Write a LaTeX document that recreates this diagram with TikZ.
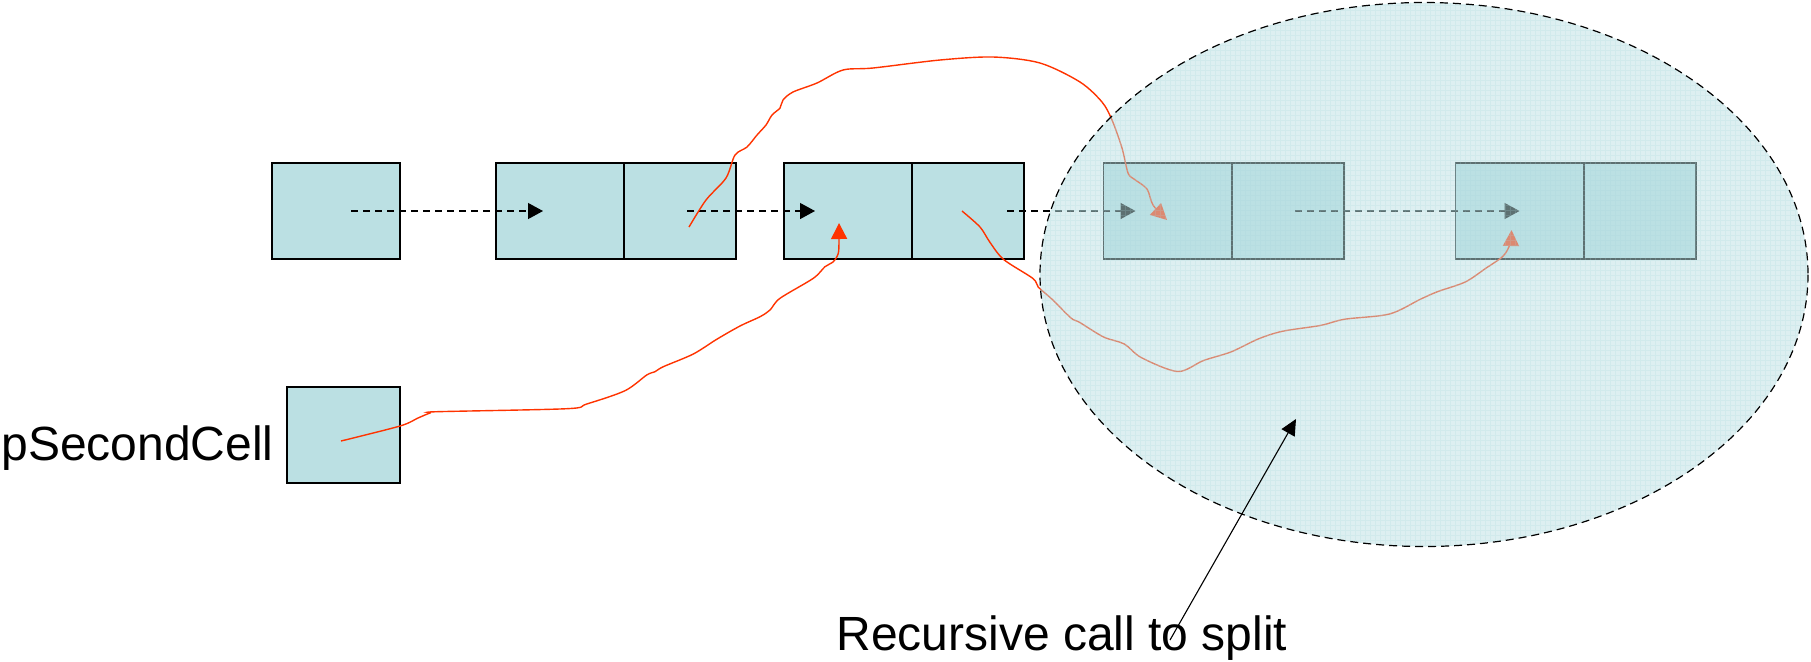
\documentclass[tikz,border=0pt]{standalone}
\usepackage{fontspec}
\setmainfont{Liberation Sans}
\usetikzlibrary{arrows.meta,calc}
\definecolor{cellfill}{RGB}{187,224,227}
\definecolor{ptrred}{RGB}{255,51,0}
\definecolor{gridc}{RGB}{165,212,218}
\begin{document}
\begin{tikzpicture}[x=0.5pt,y=-0.5pt,
  cell/.style={draw=black,line width=0.7pt,fill=cellfill,minimum height=48pt,inner sep=0pt,outer sep=0pt},
  wcell/.style={cell,minimum width=64pt},
  ncell/.style={cell,minimum width=56pt},
  link/.style={dash pattern=on 3.5pt off 2.5pt,line width=0.65pt,-{Triangle[length=7.5pt,width=8pt]}},
  ptr/.style={draw=ptrred,line width=0.7pt,-{Triangle[length=8pt,width=8pt]}},
  lbl/.style={font=\fontsize{24}{28}\selectfont,inner sep=0pt,anchor=base west}]
\useasboundingbox (0,0) rectangle (1811,661);

% cells
\node[wcell] (b1)  at (336,211) {};
\node[wcell] (b2a) at (560,211) {};
\node[ncell] (b2b) at (680,211) {};
\node[wcell] (b3a) at (848,211) {};
\node[ncell] (b3b) at (968,211) {};
\node[wcell] (b4a) at (1167.5,211) {};
\node[ncell] (b4b) at (1288,211) {};
\node[wcell] (b5a) at (1519.5,211) {};
\node[ncell] (b5b) at (1640,211) {};
\node[cell,minimum width=56.5pt] (ps) at (343.5,435) {};

% labels
\node[lbl] (psl) at (1,460) {pSecondCell};
\node[lbl] (rec) at (836,650) {Recursive call to split};

% next links
\draw[link] ($(b1.center)+(15,0)$) -- ($(b2a.west)+(47,0)$);
\draw[link] ($(b2b.center)+(7,0)$) -- ($(b3a.west)+(31,0)$);
\draw[link] ($(b3b.center)+(39,0)$) -- ($(b4a.west)+(32,0)$);
\draw[link] ($(b4b.center)+(7,0)$) -- (b5a.center);

% red pointer curves
\coordinate (pA) at ($(b2b.center)+(9,16)$);
\coordinate (tA) at ($(b4a.center)+(-0.5,9)$);
\draw[ptr] plot[smooth,tension=0.5] coordinates {(pA) (706,200) (726,178) (735,155) (747,147)
  (757,135) (766,125) (772,115) (780,108) (783,100) (793,92) (817,83) (843,70) (873,68)
  (940,60) (993,57) (1040,63) (1080,82) (1102,102) (1112,120) (1122,148) (1128,173)
  (1134,179) (1147,189) (1153,205) (tA)};

\coordinate (pB) at ($(ps.center)+(-2.5,6)$);
\coordinate (tB) at ($(b3a.center)+(-9,12)$);
\draw[ptr] plot[smooth,tension=0.5] coordinates {(pB) (400,426) (418,418) (430,413) (437,411.7)
  (566.7,408.7) (586.7,404) (625,390.7) (646.7,375) (655,371.7) (663.3,366.7) (693.3,354)
  (716.7,339.3) (740,326) (760,316.7) (770,310) (780,298.3) (813.3,278.3) (825,266.7)
  (833.3,261.7) (838.3,253.3) (839,240) (tB)};

\coordinate (pC) at ($(b3b.center)+(-6,0)$);
\coordinate (tC) at ($(b5a.center)+(-8,19)$);
\draw[ptr] plot[smooth,tension=0.5] coordinates {(pC) (980,227) (990,242.4) (1003.8,259.6)
  (1033,278.5) (1038.2,287) (1052,299.2) (1071,318) (1079.5,322.3) (1103.6,337) (1124.3,344)
  (1141.5,357.7) (1177.7,371.5) (1203.5,360.5) (1231,351.9) (1258.6,338.8) (1282.7,331.2)
  (1320.6,325.4) (1344.7,319.2) (1389.5,314) (1420.4,299.2) (1437.7,291.6) (1465.2,282)
  (1485.9,268.2) (1503,256.2) (1510,244) (tC)};

% recursive region
\fill[cellfill,fill opacity=0.5] (1424,274.5) ellipse [x radius=384, y radius=272];
\begin{scope}
  \clip (1424,274.5) ellipse [x radius=384, y radius=272];
  \draw[gridc,line width=0.15pt,opacity=0.2,step=2.5pt] (1038,0) grid (1810,550);
\end{scope}
\draw[dash pattern=on 4pt off 2.5pt,line width=0.6pt] (1424,274.5) ellipse [x radius=384, y radius=272];

% label arrow
\coordinate (rs) at ($(rec.base west)+(334,-10)$);
\coordinate (rt) at (1296,419);
\draw[line width=0.55pt,-{Triangle[length=8pt,width=7.5pt]}] (rs) -- (rt);
\end{tikzpicture}
\end{document}
